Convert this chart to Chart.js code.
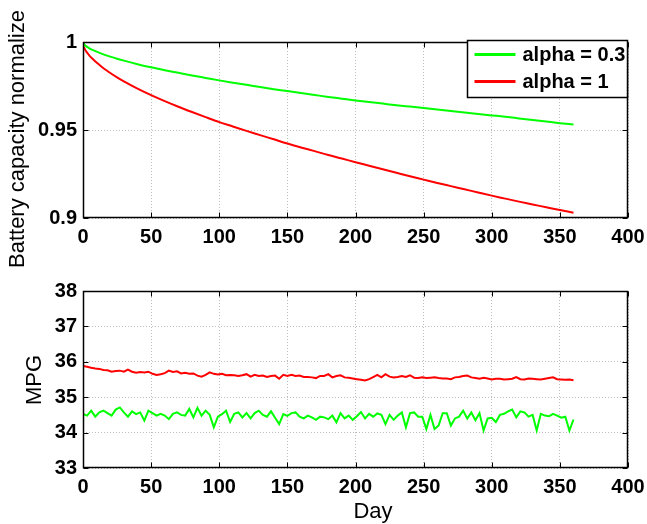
<!DOCTYPE html>
<html><head><meta charset="utf-8">
<script src="https://cdn.jsdelivr.net/npm/chart.js@4/dist/chart.umd.min.js"></script>
<style>
html,body{margin:0;padding:0;background:#fff;}
#wrap{position:relative;width:647px;height:524px;overflow:hidden;}
canvas{position:absolute;left:0;}
</style></head><body>
<div id="wrap">
<canvas id="c1" width="647" height="290" style="top:0"></canvas>
<canvas id="c2" width="647" height="262" style="top:262px"></canvas>
</div>
<script>
// ---------- DATA ----------
const seriesLabels = ['alpha = 0.3', 'alpha = 1'];
const seriesColors = ['#00ff00', '#ff0000'];

// Top panel: normalized battery capacity
const capDays = [0,1,2,3,5,7,10,15,20,25,30,40,50,60,70,80,90,100,110,120,130,140,150,160,170,180,190,200,210,220,230,240,250,260,270,280,290,300,310,320,330,340,350,360];
const capAlpha03 = [1.0,0.9985,0.9978,0.9972,0.9963,0.9955,0.9945,0.9930,0.9917,0.9905,0.9894,0.9874,0.9856,0.9840,0.9825,0.9810,0.9796,0.9782,0.9769,0.9757,0.9744,0.9732,0.9721,0.9710,0.9699,0.9688,0.9678,0.9668,0.9659,0.9650,0.9641,0.9633,0.9625,0.9616,0.9608,0.9599,0.9591,0.9583,0.9575,0.9566,0.9557,0.9548,0.9539,0.9531];
const capAlpha1 = [0.998,0.9965,0.995,0.994,0.992,0.9905,0.9883,0.9851,0.9824,0.9799,0.9776,0.9735,0.9698,0.9664,0.9632,0.9602,0.9573,0.9545,0.9520,0.9495,0.9471,0.9447,0.9423,0.9401,0.9380,0.9358,0.9338,0.9317,0.9297,0.9277,0.9257,0.9237,0.9218,0.9199,0.9181,0.9163,0.9145,0.9127,0.9110,0.9093,0.9077,0.9061,0.9045,0.9030];

// Bottom panel: MPG, sampled every 3 days (0..360)
const mpgDays = Array.from({length: 121}, (_, i) => i * 3);
const mpgAlpha03 = [
34.53,34.48,34.62,34.45,34.57,34.62,34.55,34.48,34.65,34.71,34.57,34.45,34.60,34.52,34.57,34.34,34.62,34.55,34.48,34.53,34.48,
34.38,34.53,34.57,34.50,34.48,34.67,34.43,34.70,34.48,34.62,34.50,34.15,34.45,34.52,34.62,34.30,34.53,34.57,34.43,34.55,
34.40,34.55,34.62,34.50,34.45,34.60,34.42,34.24,34.52,34.47,34.55,34.57,34.45,34.40,34.48,34.43,34.36,34.45,34.43,34.38,34.48,
34.29,34.55,34.40,34.48,34.36,34.46,34.58,34.40,34.53,34.45,34.54,34.50,34.24,34.50,34.36,34.48,34.57,34.15,34.55,34.57,34.45,
34.45,34.10,34.50,34.10,34.20,34.55,34.55,34.20,34.40,34.45,34.62,34.40,34.57,34.35,34.55,34.06,34.40,34.42,34.30,34.50,
34.53,34.60,34.65,34.43,34.60,34.57,34.45,34.50,34.06,34.53,34.48,34.46,34.53,34.48,34.42,34.45,34.06,34.37];
const mpgAlpha1 = [
35.88,35.86,35.83,35.81,35.80,35.77,35.76,35.72,35.74,35.75,35.72,35.78,35.72,35.69,35.71,35.70,35.72,35.66,35.63,35.65,35.68,
35.75,35.71,35.73,35.67,35.69,35.66,35.67,35.61,35.58,35.63,35.70,35.66,35.64,35.66,35.62,35.63,35.62,35.60,35.62,35.65,
35.58,35.63,35.60,35.61,35.57,35.60,35.61,35.52,35.63,35.60,35.63,35.60,35.61,35.57,35.57,35.56,35.54,35.60,35.60,35.65,35.56,
35.60,35.62,35.56,35.55,35.53,35.51,35.49,35.47,35.51,35.57,35.63,35.56,35.65,35.58,35.56,35.57,35.60,35.57,35.62,35.55,35.54,
35.56,35.54,35.55,35.56,35.54,35.53,35.53,35.51,35.56,35.57,35.60,35.61,35.56,35.54,35.52,35.55,35.53,35.50,35.52,35.52,
35.50,35.51,35.52,35.57,35.51,35.50,35.53,35.52,35.51,35.50,35.52,35.54,35.56,35.51,35.50,35.49,35.50,35.48];

// Axis ranges / ticks
const xRange = [0, 400], xStep = 50;
const capRange = [0.9, 1], capStep = 0.05;
const mpgRange = [33, 38], mpgStep = 1;
const titles = {capY: 'Battery capacity normalize', mpgY: 'MPG', x: 'Day'};

// ---------- STYLE ----------
const FAM = '"Liberation Sans", Arial, Helvetica, sans-serif';
const tickFont = {family: FAM, size: 20, weight: 'bold'};
const titleFontPx = 22;

const toPts = (xs, ys) => xs.map((x, i) => ({x, y: ys[i]}));

const framePlugin = {
  id: 'frame',
  afterDatasetsDraw(chart) {
    const {ctx, chartArea: a, scales} = chart;
    ctx.save();
    ctx.strokeStyle = '#000';
    ctx.lineWidth = 1;
    ctx.setLineDash([]);
    const L = Math.round(a.left) + 0.5, R = Math.round(a.right) - 0.5;
    const T = Math.round(a.top) + 0.5, B = Math.round(a.bottom) - 0.5;
    ctx.beginPath();
    const tl = 5;
    scales.x.ticks.forEach(t => {
      const px = Math.round(scales.x.getPixelForValue(t.value)) + 0.5;
      ctx.moveTo(px, B); ctx.lineTo(px, B - tl);
      ctx.moveTo(px, T); ctx.lineTo(px, T + tl);
    });
    scales.y.ticks.forEach(t => {
      const py = Math.round(scales.y.getPixelForValue(t.value)) + 0.5;
      ctx.moveTo(L, py); ctx.lineTo(L + tl, py);
      ctx.moveTo(R, py); ctx.lineTo(R - tl, py);
    });
    ctx.stroke();
    ctx.lineWidth = 1.5;
    ctx.strokeRect(L, T, R - L, B - T);
    ctx.restore();
  }
};

const titlePlugin = {
  id: 'axisTitles',
  afterDraw(chart, args, opts) {
    const {ctx} = chart;
    ctx.save();
    ctx.fillStyle = '#000';
    ctx.font = titleFontPx + 'px ' + FAM;
    ctx.textAlign = 'center';
    ctx.textBaseline = 'middle';
    (opts.items || []).forEach(it => {
      ctx.save();
      ctx.translate(it.x, it.y);
      if (it.rot) ctx.rotate(-Math.PI / 2);
      ctx.fillText(it.text, 0, 0);
      ctx.restore();
    });
    ctx.restore();
  }
};

const legendPlugin = {
  id: 'boxLegend',
  afterDraw(chart, args, opts) {
    if (!opts.show) return;
    const {ctx} = chart;
    const b = opts.box;
    ctx.save();
    ctx.fillStyle = '#fff';
    ctx.fillRect(b.x, b.y, b.w, b.h);
    ctx.strokeStyle = '#000';
    ctx.lineWidth = 1.5;
    ctx.strokeRect(b.x, b.y, b.w, b.h);
    ctx.font = 'bold 20px ' + FAM;
    ctx.textBaseline = 'middle';
    ctx.textAlign = 'left';
    chart.data.datasets.forEach((ds, i) => {
      const y = b.y + 14 + i * 27;
      ctx.strokeStyle = ds.borderColor;
      ctx.lineWidth = 3;
      ctx.beginPath();
      ctx.moveTo(b.x + 7, y); ctx.lineTo(b.x + 48, y);
      ctx.stroke();
      ctx.fillStyle = '#000';
      ctx.fillText(ds.label, b.x + 55, y + 1);
    });
    ctx.restore();
  }
};

function makeScales(yRange, yStep, xHeight, yFmt) {
  return {
    x: {
      type: 'linear', min: xRange[0], max: xRange[1],
      ticks: {stepSize: xStep, color: '#000', font: tickFont, padding: 7, maxRotation: 0, autoSkip: false},
      grid: {color: '#bdbdbd', lineWidth: 1, drawTicks: false},
      border: {display: false, dash: [1, 2]},
      afterFit(s) { s.height = xHeight; s.paddingLeft = 0; s.paddingRight = 0; }
    },
    y: {
      type: 'linear', min: yRange[0], max: yRange[1],
      ticks: {stepSize: yStep, color: '#000', font: tickFont, padding: 6, callback: yFmt, autoSkip: false},
      grid: {color: '#bdbdbd', lineWidth: 1, drawTicks: false},
      border: {display: false, dash: [1, 2]},
      afterFit(s) { s.width = 83; s.paddingTop = 0; s.paddingBottom = 0; }
    }
  };
}

const common = {
  responsive: false, animation: false, devicePixelRatio: 1,
  plugins: {legend: {display: false}, tooltip: {enabled: false}},
  elements: {point: {radius: 0}, line: {tension: 0}}
};

new Chart(document.getElementById('c1'), {
  type: 'line',
  data: {datasets: [
    {label: seriesLabels[0], data: toPts(capDays, capAlpha03), borderColor: seriesColors[0], borderWidth: 2, fill: false, cubicInterpolationMode: 'monotone', tension: 0.4},
    {label: seriesLabels[1], data: toPts(capDays, capAlpha1), borderColor: seriesColors[1], borderWidth: 2, fill: false, cubicInterpolationMode: 'monotone', tension: 0.4}
  ]},
  options: Object.assign({}, common, {
    layout: {padding: {top: 42, left: 0, right: 19, bottom: 0}},
    scales: makeScales(capRange, capStep, 72, v => String(Number(v.toFixed(2)))),
    plugins: Object.assign({}, common.plugins, {
      axisTitles: {items: [{text: titles.capY, x: 18, y: 139, rot: true}]},
      boxLegend: {show: true, box: {x: 467.5, y: 40.5, w: 160, h: 57}}
    })
  }),
  plugins: [framePlugin, titlePlugin, legendPlugin]
});

new Chart(document.getElementById('c2'), {
  type: 'line',
  data: {datasets: [
    {label: seriesLabels[0], data: toPts(mpgDays, mpgAlpha03), borderColor: seriesColors[0], borderWidth: 2, fill: false},
    {label: seriesLabels[1], data: toPts(mpgDays, mpgAlpha1), borderColor: seriesColors[1], borderWidth: 2, fill: false}
  ]},
  options: Object.assign({}, common, {
    layout: {padding: {top: 29, left: 0, right: 19, bottom: 0}},
    scales: makeScales(mpgRange, mpgStep, 56, v => String(v)),
    plugins: Object.assign({}, common.plugins, {
      axisTitles: {items: [{text: titles.mpgY, x: 35, y: 118, rot: true}, {text: titles.x, x: 373, y: 250, rot: false}]},
      boxLegend: {show: false}
    })
  }),
  plugins: [framePlugin, titlePlugin, legendPlugin]
});
</script>
</body></html>
